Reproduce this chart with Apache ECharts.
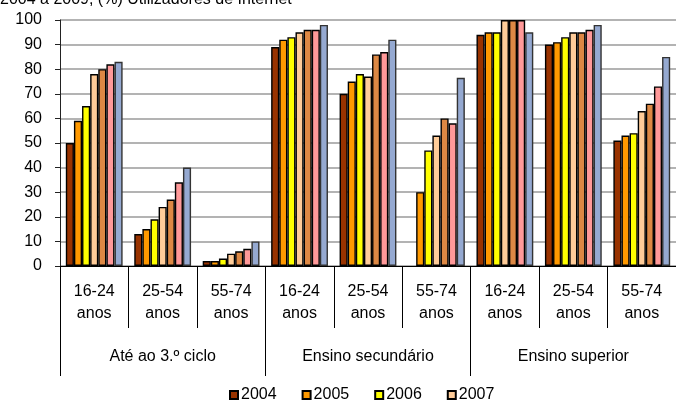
<!DOCTYPE html>
<html>
<head>
<meta charset="utf-8">
<script src="https://cdn.jsdelivr.net/npm/echarts@6/dist/echarts.min.js"></script>
<style>html,body{margin:0;padding:0;background:#fff}#c{width:676px;height:401px}</style>
</head>
<body>
<div id="c"></div>
<script>
const titleText = '2004 a 2009, (%) Utilizadores de Internet';
const ageCategories = ['16-24\nanos','25-54\nanos','55-74\nanos','16-24\nanos','25-54\nanos','55-74\nanos','16-24\nanos','25-54\nanos','55-74\nanos'];
const groupCategories = ['Até ao 3.º ciclo','Ensino secundário','Ensino superior'];
const years = ['2004','2005','2006','2007','2008','2009','2010'];
const legendYears = ['2004','2005','2006','2007'];
const yTicks = [0,10,20,30,40,50,60,70,80,90,100];
const v2004 = [50, 13, 2, 89, 70, null, 94, 90, 51];
const v2005 = [59, 15, 2, 92, 75, 30, 95, 91, 53];
const v2006 = [65, 19, 3, 93, 78, 47, 95, 93, 54];
const v2007 = [78, 24, 5, 95, 77, 53, 100, 95, 63];
const v2008 = [80, 27, 6, 96, 86, 60, 100, 95, 66];
const v2009 = [82, 34, 7, 96, 87, 58, 100, 96, 73];
const v2010 = [83, 40, 10, 98, 92, 76.5, 95, 98, 85];
const seriesValues = [v2004, v2005, v2006, v2007, v2008, v2009, v2010];
const colors = ['#993300','#FF9900','#FFFF00','#FFCC99','#DD8844','#FF9999','#95A9D1'];
const borders = ['#000','#000','#000','#000','#000','#000','#333'];

const font = "'Liberation Sans', Arial, sans-serif";
const chart = echarts.init(document.getElementById('c'));
chart.setOption({
  animation: false,
  title: { text: titleText, left: -5, top: -13, textStyle: { fontFamily: font, fontSize: 16, fontWeight: 'normal', color: '#000' } },
  legend: {
    data: legendYears, left: 224, top: 382, itemWidth: 8, itemHeight: 8, itemGap: 25,
    icon: 'rect',
    textStyle: { fontFamily: font, fontSize: 16, color: '#000', padding: [0,0,0,-2] }
  },
  grid: { left: 60, right: -1, top: 20, bottom: 135, containLabel: false },
  xAxis: [
    {
      type: 'category', data: ageCategories, position: 'bottom',
      axisLine: { show: true, lineStyle: { color: '#000', width: 1 } },
      axisTick: { show: true, interval: 0, length: 62, lineStyle: { color: '#000' } },
      axisLabel: { interval: 0, margin: 15, fontFamily: font, fontSize: 16, lineHeight: 22, color: '#000' }
    },
    {
      type: 'category', data: groupCategories, position: 'bottom',
      axisLine: { show: true, lineStyle: { color: '#000', width: 1 } },
      axisTick: { show: true, interval: 0, length: 110, lineStyle: { color: '#000' } },
      axisLabel: { interval: 0, margin: 83, fontFamily: font, fontSize: 16, color: '#000' }
    }
  ],
  yAxis: {
    type: 'value', min: 0, max: 100, interval: 10,
    axisLine: { show: true, lineStyle: { color: '#222' } },
    axisTick: { show: true, length: 5, lineStyle: { color: '#222' } },
    axisLabel: { margin: 18, fontFamily: font, fontSize: 16, color: '#000', formatter: v => yTicks.includes(v) ? String(v) : '' },
    splitLine: { lineStyle: { color: '#9a9a9a', width: 1.5 } }
  },
  series: years.map((y, i) => ({
    name: y, type: 'bar', xAxisIndex: 0, data: seriesValues[i],
    barGap: '0%', barCategoryGap: '17%',
    itemStyle: { color: colors[i], borderColor: borders[i], borderWidth: 1.4 }
  }))
});
</script>
</body>
</html>
